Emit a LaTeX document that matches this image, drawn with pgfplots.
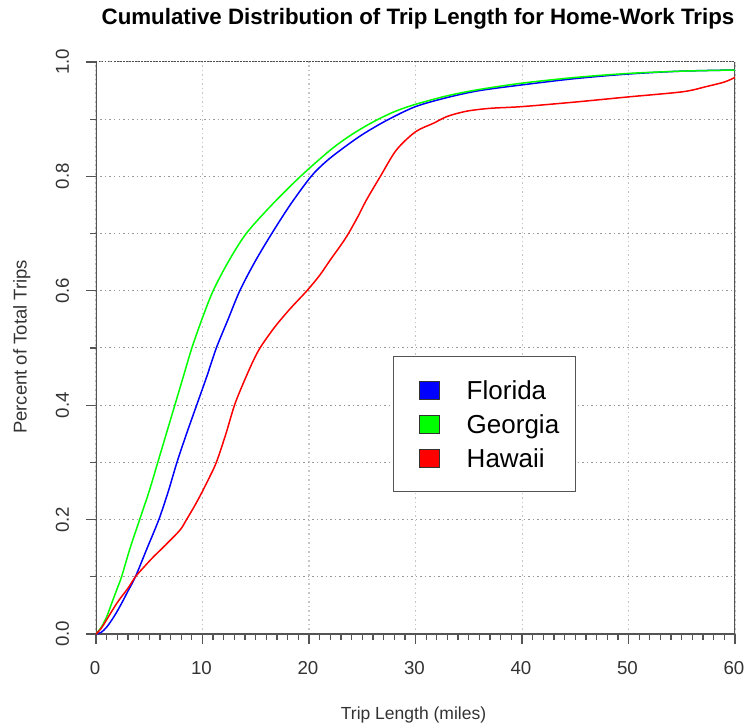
\documentclass[border=0pt]{standalone}
\usepackage{fontspec}
\setmainfont{Liberation Sans}
\usepackage{pgfplots}
\pgfplotsset{compat=1.18}
\definecolor{spine}{gray}{0.33}
\definecolor{ticktext}{gray}{0.2}
\begin{document}
\begin{tikzpicture}
\begin{axis}[
  scale only axis, width=639pt, height=572pt,
  xmin=0, xmax=60, ymin=0, ymax=1,
  axis line style={draw=none},
  tick pos=left, tick align=outside,
  xtick={0,10,20,30,40,50,60}, xticklabels={0,10,20,30,40,50,60},
  minor x tick num=9,
  ytick={0,0.2,0.4,0.6,0.8,1}, yticklabels={0.0,0.2,0.4,0.6,0.8,1.0},
  minor y tick num=1,
  major tick length=10pt, minor tick length=6pt,
  tick style={spine, line width=1.3pt},
  xmajorgrids, ymajorgrids, yminorgrids,
  x grid style={gray!45, line width=1pt, dash pattern=on 1.5pt off 3pt},
  y grid style={gray!80, line width=1pt, dash pattern=on 1.5pt off 3pt},
  xticklabel style={font=\fontsize{18.7}{18.7}\selectfont, text=ticktext, anchor=base, inner sep=0pt, yshift=-30.3pt, xshift=-1pt},
  yticklabel style={font=\fontsize{18.7}{18.7}\selectfont, text=ticktext, xshift=-17pt, rotate=90, anchor=base, inner sep=0pt},
  title={Cumulative Distribution of Trip Length for Home-Work Trips},
  title style={font=\bfseries\fontsize{22.3}{22.3}\selectfont, at={(axis description cs:0.5039,1.0542)}, anchor=base, inner sep=0pt},
  xlabel={Trip Length (miles)},
  xlabel style={font=\fontsize{17.5}{17.5}\selectfont, text=ticktext, at={(axis description cs:0.4969,-0.1486)}, anchor=base, inner sep=0pt},
  ylabel={Percent of Total Trips},
  ylabel style={font=\fontsize{18.5}{18.5}\selectfont, text=ticktext, at={(axis description cs:-0.10845,0.502)}, anchor=base, inner sep=0pt},
  legend cell align=left,
  legend style={at={(rel axis cs:0.4643,0.486)}, anchor=north west, draw=spine, line width=1.2pt, fill=white,
    font=\fontsize{26}{26}\selectfont, inner xsep=16.4pt, inner ysep=21pt, row sep=9pt,
    nodes={inner sep=0pt, text height=22pt, text depth=3pt},
    /tikz/every odd column/.append style={column sep=26.7pt}},
]
\draw[spine, line width=1.5pt] (rel axis cs:0,1) -- (rel axis cs:0,0) -- (rel axis cs:1,0) -- (rel axis cs:1,1);
\draw[black!70, line width=1pt, dash pattern=on 1.5pt off 1.5pt] (rel axis cs:0,1) -- (rel axis cs:1,1);

\addplot[blue, line width=1.5pt, smooth, tension=0.5,
  legend image code/.code={\path (0pt,0pt); \draw[fill=blue, draw=black!80, line width=0.8pt] (9.2pt,-9pt) rectangle (29.2pt,9pt);}]
coordinates {(0,0) (0.5,0.003) (1,0.012) (1.5,0.025) (2,0.04) (2.5,0.057) (3,0.075) (3.7,0.1) (4.8,0.15) (5.9,0.2) (6.8,0.25) (7.6,0.3) (8.5,0.35) (9.45,0.4) (10.4,0.45) (11.3,0.5) (12.4,0.55) (13.5,0.6) (14.9,0.65) (16.5,0.7) (18.3,0.752) (20.2,0.8) (21.6,0.826) (23.1,0.848) (25,0.873) (27.3,0.898) (30,0.922) (33,0.938) (36,0.95) (40,0.96) (45,0.971) (50,0.979) (55,0.984) (60,0.986)};
\addlegendentry{Florida}

\addplot[green, line width=1.5pt, smooth, tension=0.5,
  legend image code/.code={\path (0pt,0pt); \draw[fill=green, draw=black!80, line width=0.8pt] (9.2pt,-9pt) rectangle (29.2pt,9pt);}]
coordinates {(0,0) (0.5,0.012) (1,0.03) (1.5,0.055) (2,0.08) (2.4,0.1) (3.2,0.15) (4.1,0.2) (5,0.25) (5.8,0.3) (6.6,0.35) (7.4,0.4) (8.2,0.45) (9,0.5) (10,0.553) (11,0.6) (12.4,0.65) (14.1,0.7) (16.5,0.75) (19.2,0.8) (22,0.846) (24,0.873) (26,0.895) (28,0.913) (30,0.926) (33,0.941) (36,0.952) (40,0.963) (45,0.973) (50,0.98) (55,0.984) (60,0.986)};
\addlegendentry{Georgia}

\addplot[red, line width=1.5pt, smooth, tension=0.5,
  legend image code/.code={\path (0pt,0pt); \draw[fill=red, draw=black!80, line width=0.8pt] (9.2pt,-9pt) rectangle (29.2pt,9pt);}]
coordinates {(0,0) (0.5,0.01) (1,0.025) (2,0.055) (3,0.08) (3.7,0.1) (4.5,0.117) (5.4,0.135) (6.5,0.155) (7.9,0.182) (8.5,0.2) (9.2,0.222) (9.9,0.246) (10.6,0.272) (11.3,0.3) (12.2,0.35) (13.1,0.405) (14.5,0.467) (15.4,0.5) (16.8,0.537) (18.2,0.568) (19.8,0.6) (21,0.627) (22,0.654) (23,0.68) (23.7,0.7) (24.6,0.73) (25.4,0.759) (26.7,0.8) (28.2,0.846) (30,0.878) (31.7,0.893) (33,0.905) (34.8,0.914) (37,0.919) (40,0.922) (45,0.93) (50,0.939) (55.1,0.948) (57.3,0.957) (59,0.965) (60,0.973)};
\addlegendentry{Hawaii}
\end{axis}
\pgfresetboundingbox
\path[use as bounding box] (-96pt,-91pt) rectangle (648pt,634pt);
\end{tikzpicture}
\end{document}
